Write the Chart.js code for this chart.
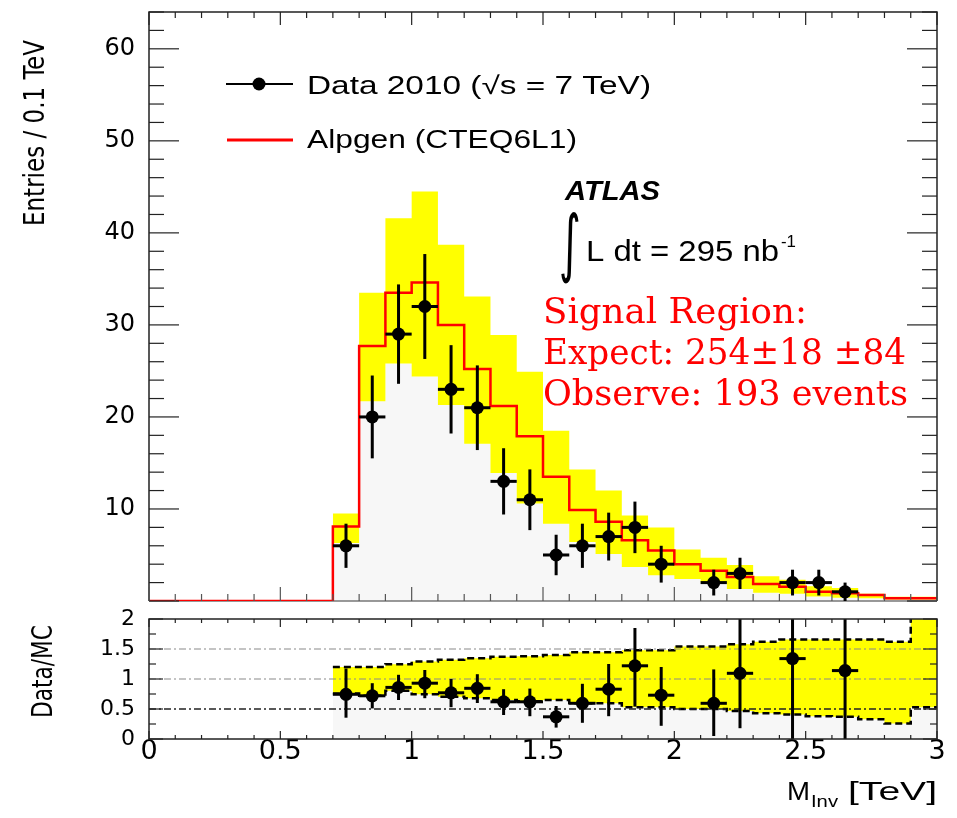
<!DOCTYPE html>
<html><head><meta charset="utf-8">
<script src="https://cdn.jsdelivr.net/npm/chart.js@4.4.1/dist/chart.umd.min.js"></script>
<style>
html,body{margin:0;padding:0;background:#fff;}
#wrap{position:relative;width:957px;height:818px;background:#fff;}
canvas{position:absolute;left:0;top:0;}
</style></head><body>
<div id="wrap"><canvas id="cTop" width="957" height="818"></canvas><canvas id="cRatio" width="957" height="818"></canvas></div>
<script>
// ---------- data ----------
const binEdges = [0.0,0.1,0.2,0.3,0.4,0.5,0.6,0.7,0.8,0.9,1.0,1.1,1.2,1.3,1.4,1.5,1.6,1.7,1.8,1.9,2.0,2.1,2.2,2.3,2.4,2.5,2.6,2.7,2.8,2.9,3.0];
const mcValues = [0,0,0,0,0,0,0,8.1,27.7,33.5,34.6,30.0,25.2,21.2,17.9,13.5,9.9,8.6,6.6,5.5,4.0,3.3,2.6,1.85,1.55,1.0,0.85,0.65,0.3,0.3];
const bandFirstBin = 7;
const mcBandUpper = [9.5,33.5,41.6,44.5,38.7,33.1,28.9,24.9,18.5,14.3,12.0,9.3,8.0,5.6,4.7,3.9,2.7,2.3,1.6,1.4,0.8,0.45,0.45];
const mcBandLower = [6.3,21.7,25.8,24.4,21.3,17.1,13.9,10.6,8.4,6.4,5.1,3.7,2.8,2.4,2.0,1.3,0.9,0.8,0.5,0.35,0.3,0.15,0.15];
const dataCenters = [0.75,0.85,0.95,1.05,1.15,1.25,1.35,1.45,1.55,1.65,1.75,1.85,1.95,2.15,2.25,2.45,2.55,2.65];
const dataValues  = [6,20,29,32,23,21,13,11,5,6,7,8,4,2,3,2,2,1];
const dataErrors  = [2.4,4.5,5.4,5.7,4.8,4.6,3.6,3.3,2.2,2.4,2.6,2.8,2.0,1.4,1.7,1.4,1.4,1.0];
const ratioCenters = [0.75,0.85,0.95,1.05,1.15,1.25,1.35,1.45,1.55,1.65,1.75,1.85,1.95,2.15,2.25,2.45,2.65];
const ratioValues  = [0.745,0.72,0.86,0.93,0.77,0.845,0.62,0.62,0.37,0.595,0.83,1.22,0.73,0.595,1.095,1.34,1.14];
const ratioErrUp   = [0.43,0.21,0.21,0.22,0.23,0.235,0.21,0.22,0.18,0.325,0.42,0.63,0.47,0.565,1.0,1.5,1.5];
const ratioErrDown = [0.39,0.21,0.21,0.25,0.24,0.245,0.22,0.24,0.18,0.325,0.45,0.68,0.51,0.545,0.915,1.4,1.2];
const ratioBandUpper = [1.2,1.2,1.245,1.29,1.32,1.345,1.37,1.38,1.40,1.445,1.445,1.48,1.48,1.54,1.54,1.58,1.62,1.66,1.66,1.66,1.66,1.62,2.2];
const ratioBandLower = [0.76,0.72,0.805,0.745,0.705,0.68,0.65,0.63,0.65,0.595,0.595,0.53,0.53,0.5,0.5,0.467,0.43,0.41,0.38,0.37,0.33,0.26,0.53];
const yTicksTop = [0,10,20,30,40,50,60];
const yTicksRatio = [0,0.5,1,1.5,2];
const xTicks = [0,0.5,1,1.5,2,2.5,3];
const refLinesRatio = [0.5,1,1.5];

// ---------- helpers ----------
const SANS = "'Liberation Sans', Arial, sans-serif";
const NARROW = "'Liberation Sans Narrow', 'DejaVu Sans Condensed', 'Liberation Sans', sans-serif";
const SERIF = "'DejaVu Serif', 'Liberation Serif', serif";
const TICKF = "'DejaVu Sans', sans-serif";

function stepLine(firstBin, vals) {
  const pts = [];
  vals.forEach((v, i) => {
    pts.push({x: binEdges[firstBin + i], y: v});
    pts.push({x: binEdges[firstBin + i + 1], y: v});
  });
  return pts;
}
function fitText(ctx, s, x, y, size, family, o = {}) {
  const weight = o.weight || 'normal', style = o.style || 'normal';
  ctx.save();
  ctx.font = `${style} ${weight} ${size}px ${family}`;
  ctx.fillStyle = o.color || '#000';
  ctx.textBaseline = o.baseline || 'alphabetic';
  ctx.textAlign = 'left';
  const w = ctx.measureText(s).width;
  const sx = o.width ? o.width / w : 1;
  const dw = w * sx;
  let x0 = x;
  if (o.align === 'right') x0 = x - dw; else if (o.align === 'center') x0 = x - dw / 2;
  ctx.translate(x0, y);
  if (o.rotate) ctx.rotate(o.rotate);
  ctx.scale(sx, 1);
  ctx.fillText(s, 0, 0);
  ctx.restore();
  return dw;
}
function seg(ctx, x1, y1, x2, y2) { ctx.beginPath(); ctx.moveTo(x1, y1); ctx.lineTo(x2, y2); ctx.stroke(); }

function drawTicks(chart, o) {
  const {ctx, chartArea: a, scales: {x, y}} = chart;
  ctx.save();
  ctx.strokeStyle = '#222';
  ctx.lineWidth = 1.2;
  for (let v = 0; v <= o.yMax + 1e-9; v += o.yMinor) {
    const py = y.getPixelForValue(v);
    if (py < a.top - 0.5 || py > a.bottom + 0.5) continue;
    const major = Math.abs(v / o.yMajor - Math.round(v / o.yMajor)) < 1e-6;
    const L = major ? o.yMajLen : o.yMinLen;
    seg(ctx, a.left, py, a.left + L, py);
    seg(ctx, a.right, py, a.right - L, py);
  }
  for (let v = 0; v <= 3 + 1e-9; v += 0.1) {
    const px = x.getPixelForValue(v);
    const major = Math.abs(v / 0.5 - Math.round(v / 0.5)) < 1e-6;
    seg(ctx, px, a.top, px, a.top + (major ? o.xTopMaj : o.xTopMin));
    ctx.strokeStyle = o.bottomColor || '#222';
    seg(ctx, px, a.bottom, px, a.bottom - (major ? o.xBotMaj : o.xBotMin));
    ctx.strokeStyle = '#222';
  }
  ctx.restore();
}

function drawErrorBars(chart, centers, vals, up, dn) {
  const {ctx, chartArea: a, scales: {x, y}} = chart;
  const hw = (binEdges[1] - binEdges[0]) / 2;
  ctx.save();
  ctx.beginPath(); ctx.rect(a.left, a.top, a.width, a.height); ctx.clip();
  ctx.strokeStyle = '#000';
  ctx.lineWidth = 3;
  centers.forEach((c, i) => {
    const px = x.getPixelForValue(c), py = y.getPixelForValue(vals[i]);
    seg(ctx, px, y.getPixelForValue(vals[i] - dn[i]), px, y.getPixelForValue(vals[i] + up[i]));
    seg(ctx, x.getPixelForValue(c - hw), py, x.getPixelForValue(c + hw), py);
  });
  ctx.restore();
}

// ---------- top panel ----------
const topDecor = {
  id: 'topDecor',
  beforeDatasetsDraw(chart) {
    const {ctx, chartArea: a} = chart;
    ctx.save(); ctx.strokeStyle = '#777'; ctx.lineWidth = 1.5;
    seg(ctx, a.left, a.bottom, a.right, a.bottom);
    ctx.restore();
  },
  beforeDatasetDraw(chart, args) {
    if (args.index !== 0) return;
    drawErrorBars(chart, dataCenters, dataValues, dataErrors, dataErrors);
  },
  afterDatasetsDraw(chart) {
    const {ctx, chartArea: a} = chart;
    ctx.save(); ctx.strokeStyle = '#222'; ctx.lineWidth = 1.5;
    ctx.beginPath(); ctx.moveTo(a.left, a.bottom); ctx.lineTo(a.left, a.top); ctx.lineTo(a.right, a.top); ctx.lineTo(a.right, a.bottom); ctx.stroke();
    ctx.restore();
    drawTicks(chart, {yMax: 64, yMinor: 2, yMajor: 10, yMajLen: 30, yMinLen: 15, xTopMaj: 13, xTopMin: 6, xBotMaj: 14, xBotMin: 7, bottomColor: '#555'});
  },
  afterDraw(chart) {
    const {ctx} = chart;
    ctx.save();
    ctx.strokeStyle = '#000'; ctx.lineWidth = 2;
    seg(ctx, 226, 84, 293, 84);
    ctx.fillStyle = '#000'; ctx.beginPath(); ctx.arc(259, 84, 6.5, 0, Math.PI * 2); ctx.fill();
    ctx.strokeStyle = '#ff0000'; ctx.lineWidth = 3;
    seg(ctx, 227, 140, 293, 140);
    ctx.restore();
    fitText(ctx, 'Data 2010 (√s = 7 TeV)', 307, 94, 25, SANS, {width: 344});
    fitText(ctx, 'Alpgen (CTEQ6L1)', 307, 148, 25, SANS, {width: 270});
    fitText(ctx, 'ATLAS', 565, 200, 27, SANS, {weight: 'bold', style: 'italic', width: 95});
    fitText(ctx, '∫', 559, 249, 74, "'DejaVu Sans', sans-serif", {baseline: 'middle', width: 22});
    fitText(ctx, 'L dt = 295 nb', 586, 261, 30, SANS, {width: 193});
    fitText(ctx, '-1', 781, 247, 17, SANS, {width: 15});
    fitText(ctx, 'Signal Region:', 543, 323, 36, SERIF, {color: '#ff0000', width: 264});
    fitText(ctx, 'Expect: 254±18 ±84', 543, 364, 36, SERIF, {color: '#ff0000', width: 363});
    fitText(ctx, 'Observe: 193 events', 543, 405, 36, SERIF, {color: '#ff0000', width: 365});
    fitText(ctx, 'Entries / 0.1 TeV', 44, 226, 29, NARROW, {rotate: -Math.PI / 2, width: 186});
  }
};

new Chart(document.getElementById('cTop'), {
  type: 'line',
  data: {
    datasets: [
      {label: 'Data 2010', data: dataCenters.map((c, i) => ({x: c, y: dataValues[i]})), showLine: false,
       pointRadius: 6.5, pointHoverRadius: 6.5, pointBackgroundColor: '#000', pointBorderColor: '#000', pointBorderWidth: 0},
      {label: 'Alpgen (CTEQ6L1)', data: stepLine(0, mcValues), borderColor: '#ff0000', borderWidth: 2.5, pointRadius: 0, fill: false, tension: 0},
      {label: 'band up', data: stepLine(bandFirstBin, mcBandUpper), borderColor: 'rgba(0,0,0,0)', borderWidth: 0.01, pointRadius: 0, fill: '+1', backgroundColor: '#ffff00', tension: 0},
      {label: 'band low', data: stepLine(bandFirstBin, mcBandLower), borderColor: 'rgba(0,0,0,0)', borderWidth: 0.01, pointRadius: 0, fill: 'origin', backgroundColor: '#f7f7f7', tension: 0}
    ]
  },
  options: {
    responsive: false, animation: false, events: [],
    layout: {padding: {left: 0, right: 20, top: 12, bottom: 217}},
    plugins: {legend: {display: false}, tooltip: {enabled: false}, filler: {drawTime: 'beforeDatasetsDraw'}},
    scales: {
      x: {type: 'linear', min: 0, max: 3, display: false},
      y: {type: 'linear', min: 0, max: 64, position: 'left',
          grid: {display: false, drawTicks: false}, border: {display: false},
          afterBuildTicks: s => { s.ticks = yTicksTop.map(v => ({value: v})); },
          afterFit: s => { s.width = 149; s.paddingTop = 0; s.paddingBottom = 0; },
          ticks: {padding: 14, color: '#000', font: {family: TICKF, size: 24}, callback: v => v === 0 ? '' : String(v)}}
    }
  },
  plugins: [topDecor]
});

// ---------- ratio panel ----------
const ratioDecor = {
  id: 'ratioDecor',
  beforeDatasetDraw(chart, args) {
    if (args.index !== 0) return;
    const {ctx, chartArea: a, scales: {y}} = chart;
    ctx.save();
    refLinesRatio.forEach(v => {
      const py = y.getPixelForValue(v);
      ctx.strokeStyle = v === 0.5 ? '#222' : '#8a8a8a';
      ctx.lineWidth = v === 0.5 ? 1.3 : 1.1;
      ctx.setLineDash([7, 3, 2, 3]);
      seg(ctx, a.left, py, a.right, py);
    });
    ctx.restore();
    drawErrorBars(chart, ratioCenters, ratioValues, ratioErrUp, ratioErrDown);
  },
  afterDatasetsDraw(chart) {
    const {ctx, chartArea: a} = chart;
    ctx.save(); ctx.strokeStyle = '#222'; ctx.lineWidth = 1.5;
    ctx.strokeRect(a.left, a.top, a.width, a.height);
    ctx.restore();
    drawTicks(chart, {yMax: 2, yMinor: 0.25, yMajor: 0.5, yMajLen: 14, yMinLen: 7, xTopMaj: 8, xTopMin: 4, xBotMaj: 8, xBotMin: 4});
  },
  afterDraw(chart) {
    const {ctx} = chart;
    fitText(ctx, 'Data/MC', 52, 718, 28, NARROW, {rotate: -Math.PI / 2, width: 93});
    const wM = fitText(ctx, 'M', 787, 800, 26, SANS, {width: 23});
    fitText(ctx, 'Inv', 787 + wM + 1, 807, 17, SANS, {width: 27});
    fitText(ctx, '[TeV]', 937, 800, 26, SANS, {width: 89, align: 'right'});
  }
};

new Chart(document.getElementById('cRatio'), {
  type: 'line',
  data: {
    datasets: [
      {label: 'Data/MC', data: ratioCenters.map((c, i) => ({x: c, y: ratioValues[i]})), showLine: false,
       pointRadius: 6.5, pointHoverRadius: 6.5, pointBackgroundColor: '#000', pointBorderColor: '#000', pointBorderWidth: 0},
      {label: 'ratio band up', data: stepLine(bandFirstBin, ratioBandUpper), borderColor: '#000', borderWidth: 2.5, borderDash: [7, 4],
       pointRadius: 0, fill: '+1', backgroundColor: '#ffff00', tension: 0},
      {label: 'ratio band low', data: stepLine(bandFirstBin, ratioBandLower), borderColor: '#000', borderWidth: 2.5, borderDash: [7, 4],
       pointRadius: 0, fill: 'origin', backgroundColor: '#f7f7f7', tension: 0}
    ]
  },
  options: {
    responsive: false, animation: false, events: [],
    layout: {padding: {left: 0, right: 20, top: 619, bottom: 39}},
    plugins: {legend: {display: false}, tooltip: {enabled: false}, filler: {drawTime: 'beforeDatasetsDraw'}},
    scales: {
      x: {type: 'linear', min: 0, max: 3, position: 'bottom',
          grid: {display: false, drawTicks: false}, border: {display: false},
          afterBuildTicks: s => { s.ticks = xTicks.map(v => ({value: v})); },
          afterFit: s => { s.height = 40; s.paddingLeft = 0; s.paddingRight = 0; },
          ticks: {padding: -3, autoSkip: false, maxRotation: 0, color: '#000', font: {family: TICKF, size: 27}, callback: v => String(v)}},
      y: {type: 'linear', min: 0, max: 2, position: 'left',
          grid: {display: false, drawTicks: false}, border: {display: false},
          afterBuildTicks: s => { s.ticks = yTicksRatio.map(v => ({value: v})); },
          afterFit: s => { s.width = 149; s.paddingTop = 0; s.paddingBottom = 0; },
          ticks: {padding: 14, color: '#000', font: {family: TICKF, size: 22}, callback: v => String(v)}}
    }
  },
  plugins: [ratioDecor]
});
</script>
</body></html>
